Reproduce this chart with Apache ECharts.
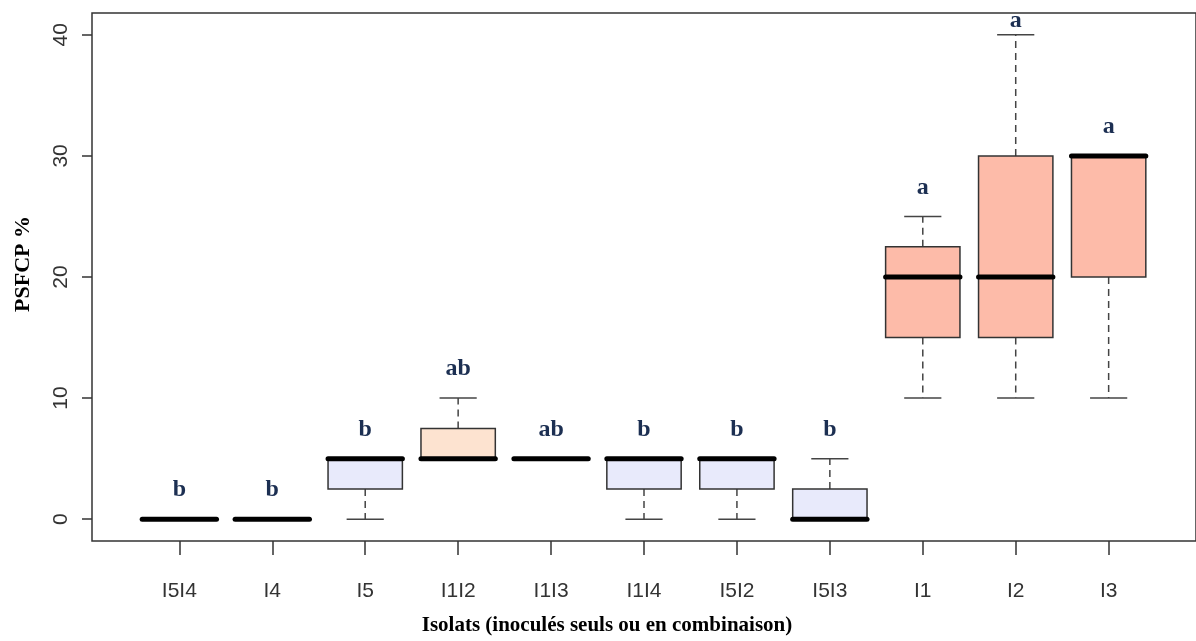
<!DOCTYPE html>
<html>
<head>
<meta charset="utf-8">
<title>PSFCP %</title>
<script src="https://cdn.jsdelivr.net/npm/echarts@6/dist/echarts.min.js"></script>
<style>
html, body { margin: 0; padding: 0; background: #fff; }
#chart { width: 1196px; height: 641px; }
</style>
</head>
<body>
<div id="chart"></div>
<script>
// isolats, dans l'ordre du graphique
const categories = ['I5I4', 'I4', 'I5', 'I1I2', 'I1I3', 'I1I4', 'I5I2', 'I5I3', 'I1', 'I2', 'I3'];
// boxplot : min, Q1, médiane, Q3, max (PSFCP %)
const mins    = [0, 0, 0,   5,   5, 0,   0,   0,   10, 10, 10];
const q1s     = [0, 0, 2.5, 5,   5, 2.5, 2.5, 0,   15, 15, 20];
const medians = [0, 0, 5,   5,   5, 5,   5,   0,   20, 20, 30];
const q3s     = [0, 0, 5,   7.5, 5, 5,   5,   2.5, 22.5, 30, 30];
const maxs    = [0, 0, 5,   10,  5, 5,   5,   5,   25, 40, 30];
// groupes statistiques
const letters = ['b', 'b', 'b', 'ab', 'ab', 'b', 'b', 'b', 'a', 'a', 'a'];
const yTicks = [0, 10, 20, 30, 40];

const fillByLetter = { a: '#fdbba9', ab: '#fde3d0', b: '#e8eafb' };
const positions = categories.map((c, i) => i + 1);

const chart = echarts.init(document.getElementById('chart'));

function renderBox(params, api) {
  const x = api.value(0);
  const pMin = api.coord([x, api.value(1)]);
  const pQ1 = api.coord([x, api.value(2)]);
  const pMed = api.coord([x, api.value(3)]);
  const pQ3 = api.coord([x, api.value(4)]);
  const pMax = api.coord([x, api.value(5)]);
  const w = api.size([0.8, 0])[0];
  const cx = pMed[0];
  const letter = letters[params.dataIndex];
  const whisker = { stroke: '#444', lineWidth: 1.5, lineDash: [7, 5] };
  const cap = { stroke: '#444', lineWidth: 1.5 };
  const textY = Math.max(pMax[1] - 29, params.coordSys.y + 8);
  return {
    type: 'group',
    children: [
      { type: 'line', shape: { x1: cx, y1: pQ3[1], x2: cx, y2: pMax[1] }, style: whisker },
      { type: 'line', shape: { x1: cx, y1: pQ1[1], x2: cx, y2: pMin[1] }, style: whisker },
      { type: 'line', shape: { x1: cx - w / 4, y1: pMax[1], x2: cx + w / 4, y2: pMax[1] }, style: cap },
      { type: 'line', shape: { x1: cx - w / 4, y1: pMin[1], x2: cx + w / 4, y2: pMin[1] }, style: cap },
      {
        type: 'rect',
        shape: { x: cx - w / 2, y: pQ3[1], width: w, height: pQ1[1] - pQ3[1] },
        style: { fill: fillByLetter[letter], stroke: '#333', lineWidth: 1.5 }
      },
      {
        type: 'line',
        shape: { x1: cx - w / 2, y1: pMed[1], x2: cx + w / 2, y2: pMed[1] },
        style: { stroke: '#000', lineWidth: 5, lineCap: 'round' }
      },
      {
        type: 'text',
        style: {
          text: letter, x: cx, y: textY,
          fill: '#1c2f52', align: 'center', verticalAlign: 'middle',
          font: 'bold 24px "Liberation Serif", "Times New Roman", serif'
        }
      }
    ]
  };
}

chart.setOption({
  backgroundColor: '#fff',
  animation: false,
  grid: {
    left: 92, top: 13, width: 1113, height: 530,
    show: true, borderColor: '#333', borderWidth: 1.5
  },
  xAxis: {
    type: 'value',
    min: 0.06,
    max: 11.94,
    splitLine: { show: false },
    axisLine: { show: false, onZero: false },
    axisTick: { customValues: positions, length: 14, lineStyle: { color: '#333', width: 1.5 } },
    axisLabel: {
      customValues: positions,
      formatter: (v) => categories[Math.round(v) - 1],
      margin: 40,
      fontSize: 21,
      color: '#333',
      fontFamily: '"Liberation Sans Narrow", "Liberation Sans", sans-serif'
    },
    name: 'Isolats (inoculés seuls ou en combinaison)',
    nameLocation: 'middle',
    nameGap: 74,
    nameTextStyle: {
      fontSize: 21, fontWeight: 'bold', color: '#000',
      fontFamily: '"Liberation Serif", "Times New Roman", serif',
      padding: [0, 74, 0, 0]
    }
  },
  yAxis: {
    type: 'value',
    min: -1.8,
    max: 41.8,
    splitLine: { show: false },
    axisLine: { show: false, onZero: false },
    axisTick: { customValues: yTicks, length: 10, lineStyle: { color: '#333', width: 1.5 } },
    axisLabel: {
      customValues: yTicks,
      rotate: 90,
      margin: 20,
      fontSize: 21,
      color: '#333',
      fontFamily: '"Liberation Sans", Arial, sans-serif'
    },
    name: 'PSFCP %',
    nameLocation: 'middle',
    nameRotate: 90,
    nameGap: 58,
    nameTextStyle: {
      fontSize: 22, fontWeight: 'bold', color: '#000',
      fontFamily: '"Liberation Serif", "Times New Roman", serif',
      padding: [0, 0, 0, 26]
    }
  },
  series: [{
    type: 'custom',
    renderItem: renderBox,
    encode: { x: 0, y: [1, 2, 3, 4, 5] },
    data: categories.map((c, i) => [i + 1, mins[i], q1s[i], medians[i], q3s[i], maxs[i]])
  }]
});

window.addEventListener('resize', () => chart.resize());
</script>
</body>
</html>
